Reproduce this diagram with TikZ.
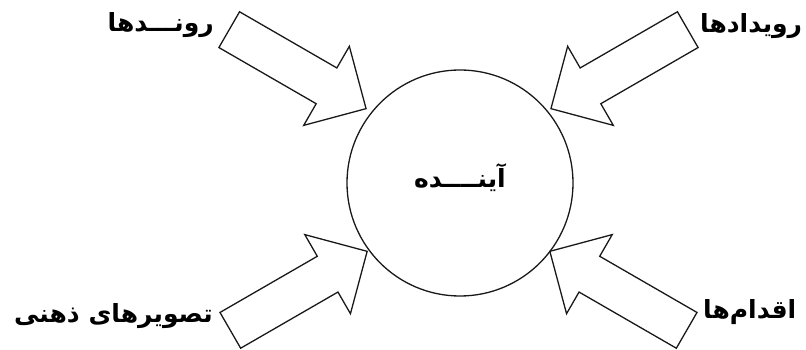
\documentclass[tikz,border=0pt]{standalone}
\usepackage{fontspec}
\newfontfamily\arabicfont[Script=Arabic]{DejaVu Sans}
\TeXXeTstate=1
\usetikzlibrary{shapes.arrows}

\begin{document}
\begin{tikzpicture}[
      x=1pt, y=1pt,
      every node/.style={font=\arabicfont\bfseries\fontsize{25}{30}\selectfont},
      bigarrow/.style={single arrow, draw=black!90, line width=1.3pt, inner xsep=0pt, inner ysep=20pt,
        minimum height=158pt, minimum width=0pt, single arrow head extend=25pt,
        single arrow tip angle=90},
      future/.style={circle, draw=black!90, line width=1.3pt, minimum size=226pt, inner sep=0pt},
      factor/.style={inner sep=0pt}
  ]
    \useasboundingbox (0,0) rectangle (806,350);

    % centre
    \node[future] (future) at (460,167) {};
    \node[factor] (futuretext) at (460,172) {\beginR آینــــده\endR};

    % incoming arrows
    \node[bigarrow, rotate=-30] (trendsarrow) at (288.7,286) {};
    \node[bigarrow, rotate=-150] (eventsarrow) at (628.3,286) {};
    \node[bigarrow, rotate=30] (imagesarrow) at (289.8,54) {};
    \node[bigarrow, rotate=150] (actionsarrow) at (627.2,54) {};

    % labels
    \node[factor, anchor=east] (trends) at (214,325) {\beginR رونـــدها\endR};
    \node[factor, anchor=west] (events) at (700,324) {\beginR رویدادها\endR};
    \node[factor, anchor=east] (images) at (213,34) {\beginR تصویرهای ذهنی\endR};
    \node[factor, anchor=west] (actions) at (703,38) {\beginR اقدام‌ها\endR};
  \end{tikzpicture}
\end{document}
